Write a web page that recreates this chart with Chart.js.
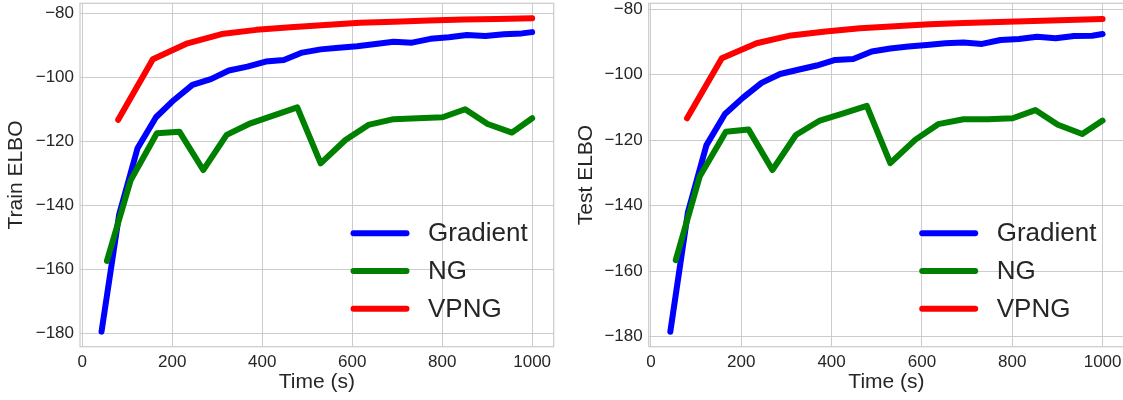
<!DOCTYPE html>
<html><head><meta charset="utf-8">
<script src="https://cdn.jsdelivr.net/npm/chart.js@4.4.1/dist/chart.umd.min.js"></script>
<style>
html,body{margin:0;padding:0;background:#fff;overflow:hidden;width:1123px;height:400px;}
canvas{position:absolute;top:0;}
</style></head><body>
<canvas id="train" width="560" height="400" style="left:0px"></canvas>
<canvas id="test" width="570" height="400" style="left:560px"></canvas>
<script>
const seriesNames = ['Gradient', 'NG', 'VPNG'];
const xTicks = [0, 200, 400, 600, 800, 1000];
const yTicks = [-180, -160, -140, -120, -100, -80];

const timeGradient = [43, 82, 123, 164, 204, 245, 286, 326, 367, 408, 448, 489, 530, 570, 611, 652, 692, 733, 774, 815, 855, 896, 937, 977, 1000];
const timeNG = [55, 108, 166, 216, 269, 321, 374, 426, 478, 530, 585, 636, 692, 746, 801, 851, 901, 955, 1000];
const timeVPNG = [80, 157, 234, 310, 387, 463, 540, 617, 693, 770, 847, 923, 1000];

const trainGradient = [-179.5, -143, -122.2, -112.5, -107.1, -102.4, -100.6, -97.9, -96.7, -95.1, -94.6, -92.3, -91.3, -90.8, -90.3, -89.6, -88.9, -89.2, -88.0, -87.5, -86.8, -87.1, -86.6, -86.3, -85.9];
const trainNG = [-157.4, -132.1, -117.5, -117.0, -129.0, -118.0, -114.4, -111.9, -109.4, -126.9, -119.6, -114.9, -113.1, -112.8, -112.5, -110.0, -114.6, -117.3, -112.8];
const trainVPNG = [-113.3, -94.4, -89.4, -86.5, -85.2, -84.4, -83.7, -83.0, -82.7, -82.3, -82.0, -81.8, -81.6];

const testGradient = [-178.5, -142, -121.5, -112.0, -107.0, -102.5, -99.8, -98.5, -97.2, -95.5, -95.2, -92.9, -92.0, -91.4, -90.9, -90.4, -90.2, -90.6, -89.4, -89.1, -88.4, -88.9, -88.2, -88.1, -87.6];
const testNG = [-156.6, -131.1, -117.4, -116.7, -129.1, -118.4, -114.0, -111.8, -109.5, -127.0, -119.9, -115.1, -113.6, -113.6, -113.3, -110.8, -115.3, -118.1, -114.0];
const testVPNG = [-113.3, -95.0, -90.4, -88.0, -86.8, -85.8, -85.2, -84.6, -84.2, -83.9, -83.6, -83.3, -83.0];

const FONT = "'Liberation Sans', Arial, sans-serif";
const TEXT = '#262626';
const GRID = '#cccccc';
const COLORS = ['#0000ff', '#008000', '#ff0000'];

function pts(xs, ys) { return xs.map((x, i) => ({ x: x, y: ys[i] })); }
function fmt(v) { return v < 0 ? '\u2212' + Math.abs(v) : String(v); }

const framePlugin = {
  id: 'frame',
  beforeDatasetsDraw(chart) {
    const { ctx, chartArea: a } = chart;
    ctx.save();
    ctx.strokeStyle = GRID;
    ctx.lineWidth = 1.25;
    ctx.strokeRect(a.left, a.top, a.right - a.left, a.bottom - a.top);
    ctx.restore();
  }
};

const legendPlugin = {
  id: 'insideLegend',
  afterDatasetsDraw(chart, args, opts) {
    const { ctx, chartArea: a } = chart;
    ctx.save();
    chart.data.datasets.forEach((ds, i) => {
      const y = a.bottom - opts.rows[i];
      ctx.strokeStyle = ds.borderColor;
      ctx.lineWidth = 6;
      ctx.lineCap = 'round';
      ctx.beginPath();
      ctx.moveTo(a.left + opts.x0, y);
      ctx.lineTo(a.left + opts.x1, y);
      ctx.stroke();
      ctx.fillStyle = TEXT;
      ctx.font = '26px ' + FONT;
      ctx.textBaseline = 'middle';
      ctx.textAlign = 'left';
      ctx.fillText(ds.label, a.left + opts.tx, y + 1);
    });
    ctx.restore();
  }
};

function zeroPad(s) { s.paddingLeft = 0; s.paddingRight = 0; s.paddingTop = 0; s.paddingBottom = 0; }

function makeChart(id, cfg) {
  return new Chart(document.getElementById(id), {
    type: 'line',
    data: {
      datasets: [
        { label: seriesNames[0], data: pts(timeGradient, cfg.grad), borderColor: COLORS[0], backgroundColor: COLORS[0], order: 3 },
        { label: seriesNames[1], data: pts(timeNG, cfg.ng), borderColor: COLORS[1], backgroundColor: COLORS[1], order: 2 },
        { label: seriesNames[2], data: pts(timeVPNG, cfg.vpng), borderColor: COLORS[2], backgroundColor: COLORS[2], order: 1 }
      ]
    },
    options: {
      responsive: false,
      animation: false,
      devicePixelRatio: 1,
      layout: { padding: { top: 3.3, right: cfg.padRight, left: 0, bottom: 0 } },
      elements: {
        line: { borderWidth: 6, borderCapStyle: 'round', borderJoinStyle: 'round', tension: 0, fill: false },
        point: { radius: 0, hoverRadius: 0 }
      },
      plugins: {
        legend: { display: false },
        tooltip: { enabled: false },
        insideLegend: { x0: 273.5, x1: 326.5, tx: 348, rows: [113.4, 75.7, 38] }
      },
      scales: {
        x: {
          type: 'linear', min: -4.85, max: 1047.85,
          afterBuildTicks(s) { s.ticks = xTicks.map(v => ({ value: v })); },
          afterFit(s) { s.height = 53.3; zeroPad(s); },
          grid: { color: GRID, lineWidth: 1, drawTicks: false },
          border: { display: false },
          ticks: { font: { family: FONT, size: 17 }, color: TEXT, padding: 5, callback: fmt, maxRotation: 0, autoSkip: false },
          title: { display: true, text: 'Time (s)', font: { family: FONT, size: 21, lineHeight: 1.2 }, color: TEXT, padding: { top: 0, bottom: 5 } }
        },
        y: {
          type: 'linear', min: cfg.ymin, max: cfg.ymax,
          afterBuildTicks(s) { s.ticks = yTicks.map(v => ({ value: v })); },
          afterFit(s) { s.width = cfg.yWidth; zeroPad(s); },
          grid: { color: GRID, lineWidth: 1, drawTicks: false },
          border: { display: false },
          ticks: { font: { family: FONT, size: 17 }, color: TEXT, padding: 6, callback: fmt, autoSkip: false },
          title: { display: true, text: cfg.ylabel, font: { family: FONT, size: 21, lineHeight: 1.2 }, color: TEXT, padding: { top: cfg.titlePad, bottom: 0 } }
        }
      }
    },
    plugins: [framePlugin, legendPlugin]
  });
}

makeChart('train', { grad: trainGradient, ng: trainNG, vpng: trainVPNG, ymin: -184.2, ymax: -76.9, yWidth: 80, padRight: 6.3, ylabel: 'Train ELBO', titlePad: 4.1 });
makeChart('test', { grad: testGradient, ng: testNG, vpng: testVPNG, ymin: -183.05, ymax: -78.2, yWidth: 88.7, padRight: 5.8, ylabel: 'Test ELBO', titlePad: 13.4 });
</script>
</body></html>
